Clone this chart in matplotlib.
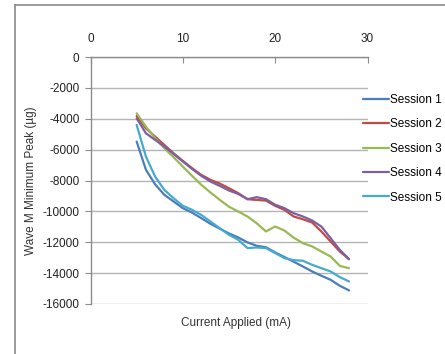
import matplotlib.pyplot as plt
from matplotlib.lines import Line2D

plt.rcParams["font.family"] = ["Liberation Sans", "DejaVu Sans"]
plt.rcParams["axes.unicode_minus"] = False

current = [5, 6, 7, 8, 9, 10, 11, 12, 13, 14, 15, 16,
           17, 18, 19, 20, 21, 22, 23, 24, 25, 26, 27, 28]

session1 = [-5480, -7300, -8250, -8930, -9360, -9790, -10080, -10440, -10810, -11120, -11430, -11690,
            -12010, -12230, -12320, -12660, -12960, -13260, -13570, -13890, -14170, -14430, -14820, -15120]
session2 = [-3820, -4620, -5160, -5700, -6240, -6730, -7200, -7640, -7960, -8200, -8500, -8820,
            -9210, -9260, -9300, -9640, -9900, -10330, -10510, -10720, -11300, -11950, -12600, -13100]
session3 = [-3650, -4510, -5260, -5910, -6490, -7100, -7700, -8280, -8780, -9255, -9700, -10010,
            -10330, -10770, -11300, -10980, -11240, -11700, -12060, -12270, -12600, -12920, -13530, -13680]
session4 = [-3970, -4940, -5370, -5800, -6280, -6770, -7250, -7700, -8070, -8350, -8650, -8870,
            -9210, -9080, -9210, -9570, -9790, -10120, -10330, -10590, -10980, -11730, -12490, -13090]
session5 = [-4400, -6450, -7750, -8610, -9150, -9640, -9900, -10230, -10660, -11090, -11520, -11840,
            -12380, -12340, -12380, -12700, -13030, -13160, -13200, -13460, -13680, -13890, -14260, -14540]

labels = ["Session 1", "Session 2", "Session 3", "Session 4", "Session 5"]
colors = ["#4A7EBB", "#BE4B48", "#98B954", "#7D60A0", "#46AACE"]

W, H = 445, 354
fig = plt.figure(figsize=(W / 100, H / 100), dpi=100)
fig.patch.set_facecolor("white")

# outer chart border (only left and top edges are in view)
fig.lines.append(Line2D([14.5 / W, 14.5 / W], [0, 1 - 4.5 / H], transform=fig.transFigure,
                        color="#8a8a8a", linewidth=1.2))
fig.lines.append(Line2D([14.5 / W, 1], [1 - 4.5 / H, 1 - 4.5 / H], transform=fig.transFigure,
                        color="#8a8a8a", linewidth=1.2))

ax = fig.add_axes([90.5 / W, 1 - 304 / H, 277 / W, 247 / H])

for ys, lab, c in zip([session1, session2, session3, session4, session5], labels, colors):
    ax.plot(current, ys, color=c, linewidth=1.6, label=lab, solid_capstyle="round")

ax.set_xlim(0, 30)
ax.set_ylim(-16000, 0)
ax.set_xticks([0, 10, 20, 30])
ax.set_yticks(range(-16000, 1, 2000))

ax.xaxis.tick_top()
ax.tick_params(axis="x", direction="in", length=4, color="#8c8c8c", pad=9,
               labelsize=8.5, labelcolor="#222222")
ax.tick_params(axis="y", direction="out", length=4, color="#8c8c8c", pad=4,
               labelsize=8.5, labelcolor="#222222")

ax.grid(axis="y", color="#b4b4b4", linewidth=1.0)
ax.set_axisbelow(True)
for s in ["right", "bottom"]:
    ax.spines[s].set_visible(False)
for s in ["left", "top"]:
    ax.spines[s].set_color("#8c8c8c")
    ax.spines[s].set_linewidth(1.0)

ax.set_ylabel("Wave M Minimum Peak (µg)", fontsize=8.5, color="#333333", labelpad=4)
fig.text(236 / W, 1 - 323 / H, "Current Applied (mA)", fontsize=8.5,
         color="#333333", ha="center", va="center")

ax.legend(loc="upper left", bbox_to_anchor=(363 / W, 1 - 94 / H),
          bbox_transform=fig.transFigure, frameon=False, fontsize=8.5,
          handlelength=2.2, handletextpad=0.1, labelspacing=1.05,
          borderaxespad=0, borderpad=0)

fig.savefig("out.png", dpi=100)
